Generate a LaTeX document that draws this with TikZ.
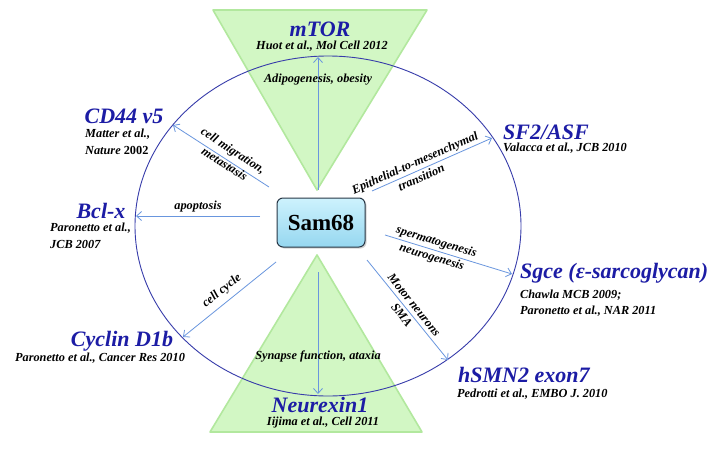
\documentclass[tikz,border=0pt]{standalone}
\usepackage{fontspec}
\setmainfont{Liberation Serif}
\usetikzlibrary{arrows.meta,shadows}
\definecolor{bigblue}{RGB}{28,28,165}
\definecolor{ellblue}{RGB}{55,60,170}
\definecolor{arrblue}{RGB}{105,150,222}
\definecolor{trigreen}{RGB}{178,232,158}
\definecolor{trilight}{RGB}{210,247,196}
\definecolor{boxtop}{RGB}{205,242,253}
\definecolor{boxbot}{RGB}{150,215,240}
\definecolor{boxline}{RGB}{40,55,70}
\tikzset{
  tri/.style={fill=trilight,draw=trigreen,line width=1.6pt,line join=round},
  conn/.style={draw=arrblue,line width=0.8pt,-{Straight Barb[length=5pt,width=9pt]}},
  target/.style={font=\fontsize{22}{24}\selectfont\bfseries\itshape,text=bigblue,inner sep=0pt},
  cite/.style={font=\fontsize{12.3}{16}\selectfont\bfseries\itshape,text=black,inner sep=0pt},
  elab/.style={font=\fontsize{12.3}{16}\selectfont\bfseries\itshape,text=black,inner sep=0pt,align=center},
  hub/.style={rounded corners=6pt,top color=boxtop,bottom color=boxbot,draw=boxline,line width=1pt,
    minimum width=88pt,minimum height=49pt,font=\fontsize{23}{24}\selectfont\bfseries,
    drop shadow={shadow xshift=1.5pt,shadow yshift=-1.5pt,opacity=0.35}}
}
\begin{document}
\begin{tikzpicture}[x=1pt,y=-1pt]
\useasboundingbox (0,0) rectangle (720,450);
\fill[white] (0,0) rectangle (720,450);
% triangles
\path[tri] (213,10) -- (427,10) -- (317,190) -- cycle;
\path[tri] (317,255) -- (422,432) -- (210,432) -- cycle;
% ellipse
\draw[ellblue,line width=0.9pt] (328,226) ellipse [x radius=193pt, y radius=170pt];
% hub
\node[hub] (sam) at (321,222.5) {Sam68};
% connector end points
\coordinate (sTop) at (318,190);
\coordinate (eTop) at (318,57);
\coordinate (sCD) at (269,187);
\coordinate (eCD) at (173,125);
\coordinate (sBcl) at (260,216);
\coordinate (eBcl) at (136,216);
\coordinate (sCyc) at (276,262);
\coordinate (eCyc) at (183,337);
\coordinate (sBot) at (318,272);
\coordinate (eBot) at (318,394);
\coordinate (sSF) at (372,191);
\coordinate (eSF) at (492,138);
\coordinate (sSg) at (385,235);
\coordinate (eSg) at (512,274);
\coordinate (sSM) at (367,260);
\coordinate (eSM) at (448,360);
\draw[conn] (sTop) -- (eTop);
\draw[conn] (sCD) -- (eCD);
\draw[conn] (sBcl) -- (eBcl);
\draw[conn] (sCyc) -- (eCyc);
\draw[conn] (sBot) -- (eBot);
\draw[conn] (sSF) -- (eSF);
\draw[conn] (sSg) -- (eSg);
\draw[conn] (sSM) -- (eSM);
% edge labels
\node[elab] (lAd) at (318,80) {Adipogenesis, obesity};
\node[elab,rotate=-33] (lCD) at (229,157) {cell migration,\\metastasis};
\node[elab] (lBcl) at (198,207) {apoptosis};
\node[elab,rotate=39] (lCyc) at (222,291) {cell cycle};
\node[elab] (lSyn) at (318,356) {Synapse function, ataxia};
\node[elab,rotate=24] (lSF) at (418,170) {Epithelial-to-mesenchymal\\transition};
\node[elab,rotate=-17] (lSg) at (434,250) {spermatogenesis\\neurogenesis};
\node[elab,rotate=-51] (lSM) at (408,310) {Motor neurons\\SMA};
% targets
\node[target] (mtor) at (320,29) {mTOR};
\node[cite] (mtorc) at (322,46) {Huot et al., Mol Cell 2012};
\node[target] (cd44) at (124,116) {CD44 v5};
\node[cite,anchor=west] (cd44c1) at (85,134) {Matter et al.,};
\node[cite,anchor=west] (cd44c2) at (85,150) {Nature {\upshape 2002}};
\node[target] (bcl) at (101,211) {Bcl-x};
\node[cite,anchor=west] (bclc1) at (50,228) {Paronetto et al.,};
\node[cite,anchor=west] (bclc2) at (50,244) {JCB 2007};
\node[target] (cyc) at (122,341) {Cyclin D1b};
\node[cite] (cycc) at (100,358) {Paronetto et al., Cancer Res 2010};
\node[target] (nrx) at (320,405) {Neurexin1};
\node[cite] (nrxc) at (323,423) {Iijima et al., Cell 2011};
\node[target,anchor=west] (sf) at (503,132) {SF2/ASF};
\node[cite,anchor=west] (sfc) at (503,148) {Valacca et al., JCB 2010};
\node[target,anchor=west] (sg) at (520,273) {Sgce (ε-sarcoglycan)};
\node[cite,anchor=west] (sgc1) at (520,295) {Chawla MCB 2009;};
\node[cite,anchor=west] (sgc2) at (520,311) {Paronetto et al., NAR 2011};
\node[target,anchor=west] (smn) at (458,375) {hSMN2 exon7};
\node[cite,anchor=west] (smnc) at (457,394) {Pedrotti et al., EMBO J. 2010};
\end{tikzpicture}
\end{document}
